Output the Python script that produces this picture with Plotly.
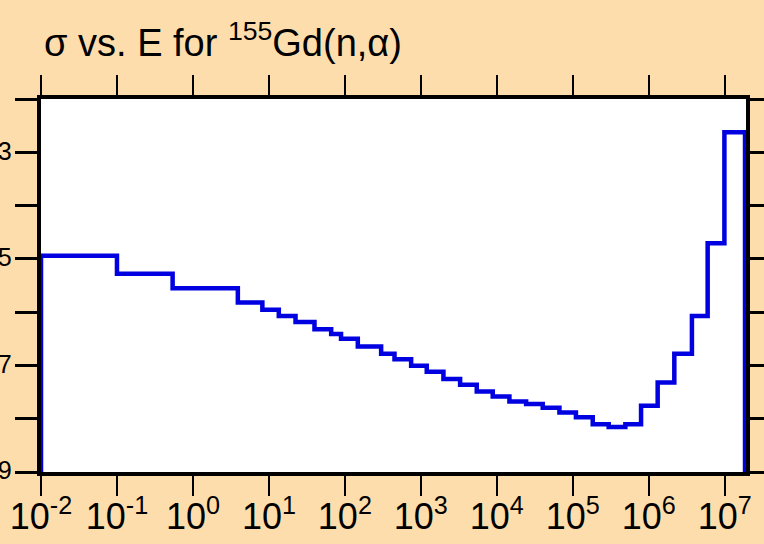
import plotly.graph_objects as go

# Group boundaries (eV) and group cross sections (b)
energy_bounds = [0.01, 0.1, 0.54, 3.9, 8.2, 13.5, 22.4, 39.8, 66, 89, 148, 300, 450,
                 745, 1196, 1983, 3288, 5445, 8835, 14650, 24300, 40200, 66700,
                 110000, 183000, 297000, 492000, 792000, 1.31e6, 2.17e6, 3.7e6,
                 5.96e6, 9.9e6, 1.85e7]
sigma = [1.14e-5, 5.24e-6, 2.82e-6, 1.51e-6, 1.11e-6, 8.5e-7, 6.5e-7, 4.8e-7,
         3.87e-7, 3.16e-7, 2.26e-7, 1.66e-7, 1.31e-7, 9.9e-8, 7.6e-8, 5.55e-8,
         4.34e-8, 3.25e-8, 2.62e-8, 2.11e-8, 1.88e-8, 1.61e-8, 1.31e-8, 1.06e-8,
         7.9e-9, 7.0e-9, 7.9e-9, 1.75e-8, 4.79e-8, 1.66e-7, 8.5e-7, 1.97e-5, 2.38e-3]

x_exponents = list(range(-2, 8))
x_ticktext = [f"10<sup>{e}</sup>" for e in x_exponents]
y_exponents = list(range(-9, -1))
y_ticktext = [f"10<sup>{e}</sup>" if e % 2 != 0 else "" for e in y_exponents]

floor = 1e-12
xs = [energy_bounds[0]] + energy_bounds + [energy_bounds[-1]]
ys = [floor] + sigma + [sigma[-1], floor]

BG = "#FEDDAC"
FONT = "Liberation Sans, Arial, sans-serif"

fig = go.Figure()
fig.add_trace(go.Scatter(x=xs, y=ys, mode="lines", line=dict(color="#0000E0", width=4.5, shape="hv"),
                         hoverinfo="skip", showlegend=False))

fig.update_layout(
    width=764, height=544,
    paper_bgcolor=BG, plot_bgcolor="white",
    margin=dict(l=41, r=18, t=99, b=72, autoexpand=False),
    font=dict(family=FONT, color="black"),
    title=dict(text="σ vs. E for <sup>155</sup>Gd(n,α)", x=44 / 764, xanchor="left",
               xref="container", y=1 - 43 / 544, yanchor="middle", yref="container",
               font=dict(size=38, family=FONT, color="black")),
)
fig.update_xaxes(type="log", range=[-2, 7.28], tickvals=[10.0 ** e for e in x_exponents],
                 ticktext=x_ticktext, ticks="outside", ticklen=20, tickwidth=2, tickcolor="black",
                 showline=True, linewidth=4, linecolor="black", mirror="ticks", showgrid=False,
                 zeroline=False, tickfont=dict(size=36, family=FONT), automargin=False,
                 ticklabelstandoff=-10)
fig.update_yaxes(type="log", range=[-9, -2], tickvals=[10.0 ** e for e in y_exponents],
                 ticktext=y_ticktext, ticks="outside", ticklen=22, tickwidth=2.5, tickcolor="black",
                 showline=True, linewidth=4, linecolor="black", mirror="ticks", showgrid=False,
                 zeroline=False, tickfont=dict(size=36, family=FONT), automargin=False,
                 ticklabelstandoff=-4, ticklabelshift=10)

fig.write_html("out.html", config={"displayModeBar": False},
               post_script="document.body.style.margin='0';"
               "document.body.style.backgroundColor='#FEDDAC';")
